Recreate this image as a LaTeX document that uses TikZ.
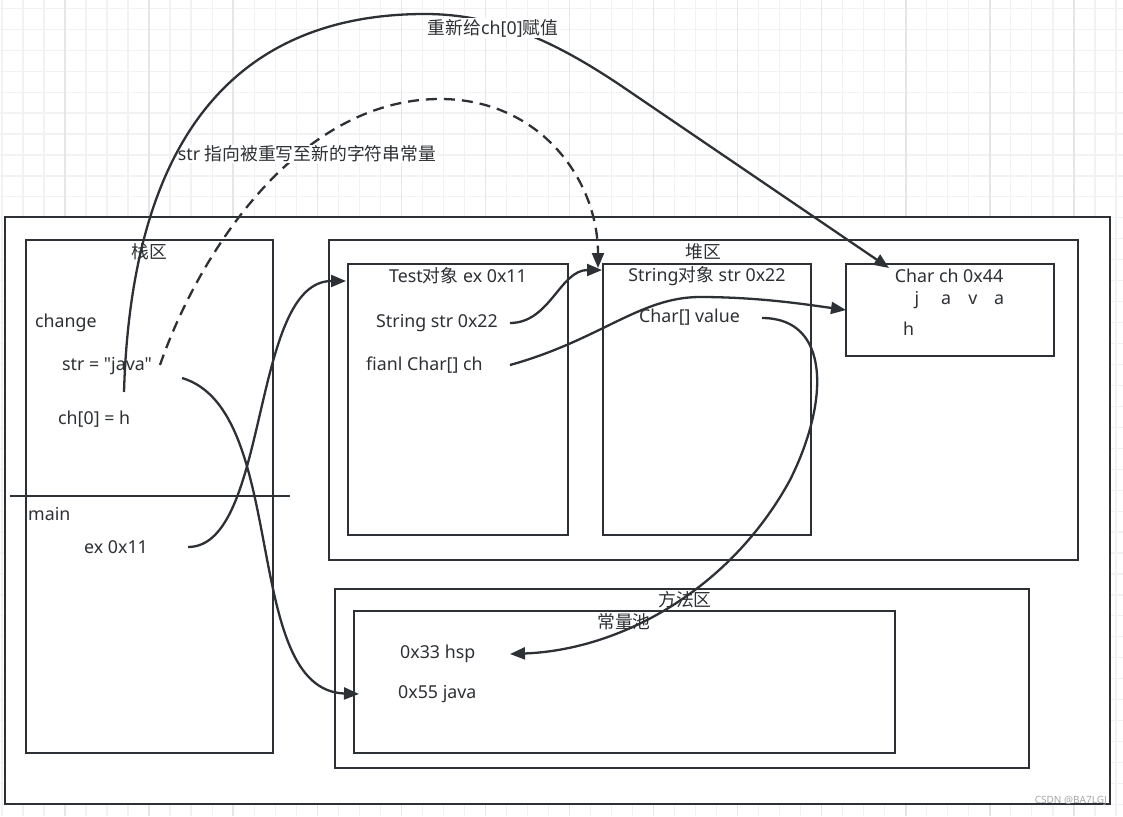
\documentclass[tikz,border=0pt]{standalone}
\usepackage{fontspec}
\newfontfamily\lat{Noto Sans}
\newfontfamily\cjk{Noto Sans CJK SC}
\usetikzlibrary{arrows.meta}
\definecolor{ink}{RGB}{45,48,52}
\definecolor{gridthin}{RGB}{242,242,242}
\definecolor{gridthick}{RGB}{230,230,230}
\tikzset{
  box/.style={draw=ink, line width=2.3pt, fill=white},
  txt/.style={inner sep=0pt, text=ink, font=\lat\fontsize{17.8}{20}\selectfont},
  ltxt/.style={txt, anchor=west},
  lbl/.style={txt, fill=white, inner sep=1pt},
  conn/.style={draw=ink, line width=2.3pt, -{Triangle[length=15pt,width=12pt]}},
  dconn/.style={conn, dash pattern=on 11pt off 7pt}
}
\begin{document}
\begin{tikzpicture}[x=1pt,y=-1pt]
\useasboundingbox (0,0) rectangle (1123,816);
\fill[white] (0,0) rectangle (1123,816);
% grid
\foreach \i in {0,...,53} {\draw[gridthin, line width=1.2pt] ({1.9+21.02*\i},0) -- ({1.9+21.02*\i},816);}
\foreach \i in {0,...,38} {\draw[gridthin, line width=1.2pt] (0,{8.3+20.95*\i}) -- (1123,{8.3+20.95*\i});}
\foreach \i in {0,...,13} {\draw[gridthick, line width=1.4pt] ({65+84.08*\i},0) -- ({65+84.08*\i},816);}
% outer frame
\draw[box] (5,217) rectangle (1110,804);
% stack
\draw[box] (26,240) rectangle (273,753);
\node[txt] (stackT) at (149,252) {\cjk 栈区};
\draw[draw=ink, line width=2.3pt] (10,496) -- (290,496);
\node[ltxt] (change) at (35,323) {change};
\node[ltxt] (strj) at (62,366) {str = "java"};
\node[ltxt] (ch0) at (58,419) {ch[0] = h};
\node[ltxt] (main) at (28,514) {main};
\node[ltxt] (ex) at (84,547) {ex 0x11};
% heap
\draw[box] (329,240) rectangle (1078,560);
\node[txt] (heapT) at (703,252) {\cjk 堆区};
\draw[box] (348,264) rectangle (568,535);
\node[txt] (testT) at (458,276) {Test{\cjk 对象} ex 0x11};
\node[ltxt] (sstr) at (376,323) {String str 0x22};
\node[ltxt] (fch) at (366,365) {fianl Char[] ch};
\draw[box] (603,264) rectangle (811,535);
\node[txt] (strT) at (707,276) {String{\cjk 对象} str 0x22};
\node[ltxt] (cval) at (639,317) {Char[] value};
\draw[box] (846,264) rectangle (1054,356);
\node[txt] (chT) at (949,276) {Char ch 0x44};
\node[txt] (cj) at (917,300) {j};
\node[txt] (ca1) at (946,300) {a};
\node[txt] (cv) at (973,300) {v};
\node[txt] (ca2) at (999,300) {a};
\node[ltxt] (ch) at (903,329) {h};
% method area
\draw[box] (335,589) rectangle (1029,768);
\node[txt] (methT) at (685,600) {\cjk 方法区};
\draw[box] (354,611) rectangle (895,753);
\node[txt] (poolT) at (624,622) {\cjk 常量池};
\node[ltxt] (hsp) at (400,654) {0x33 hsp};
\node[ltxt] (java) at (398,694) {0x55 java};
% connector endpoints
\coordinate (s1) at (124,392);
\coordinate (t1) at (889,268);
\coordinate (s2) at (160,365);
\coordinate (t2) at (598,268);
\coordinate (s3) at (182,378);
\coordinate (t3) at (359,694);
\coordinate (s4) at (188,547);
\coordinate (t4) at (346,281);
\coordinate (s5) at (510,323);
\coordinate (t5) at (602,270);
\coordinate (s6) at (510,365);
\coordinate (t6) at (846,310);
\coordinate (s7) at (762,318);
\coordinate (t7) at (510,654);
% dashed arrow and its label
\draw[dconn] (s2) .. controls (200,250) and (300,99) .. (440,99) .. controls (540,99) and (598,180) .. (t2);
\node[lbl] (lab2) at (307,154) {str {\cjk 指向被重写至新的字符串常量}};
% solid big arrow
\draw[conn] (s1) .. controls (132,120) and (250,14) .. (425,14) .. controls (500,14) and (560,45) .. (620,85) -- (t1);
\node[lbl] (lab1) at (493,28) {{\cjk 重新给}ch[0]{\cjk 赋值}};
% others
\draw[conn] (s3) .. controls (290,410) and (240,690) .. (t3);
\draw[conn] (s4) .. controls (270,547) and (250,281) .. (t4);
\draw[conn] (s5) .. controls (550,323) and (560,270) .. (t5);
\draw[conn] (s6) .. controls (600,340) and (640,297) .. (700,297) .. controls (760,297) and (810,305) .. (t6);
\draw[conn] (s7) .. controls (830,318) and (830,400) .. (790,480) .. controls (730,590) and (620,650) .. (t7);
% watermark
\node[txt, font=\lat\fontsize{10}{12}\selectfont, text=gray!70, anchor=east] (wm) at (1107,801) {CSDN @BA7LGJ};
\end{tikzpicture}
\end{document}
